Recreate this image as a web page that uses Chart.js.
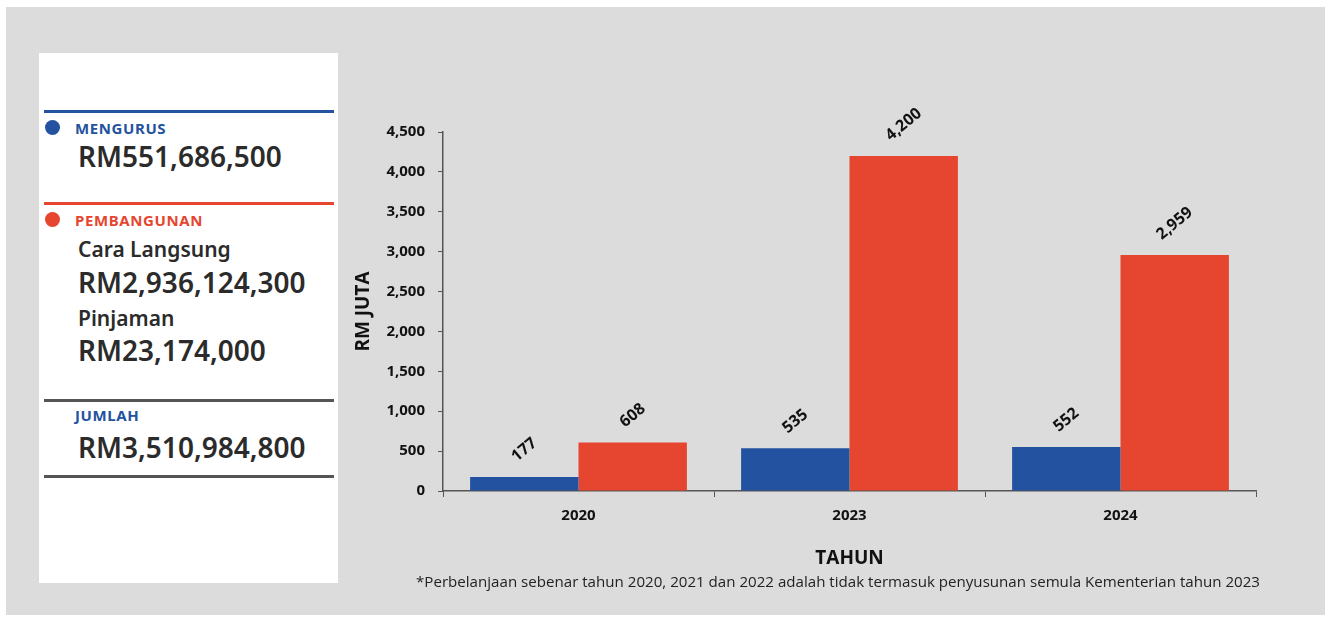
<!DOCTYPE html>
<html>
<head>
<meta charset="utf-8">
<script src="https://cdn.jsdelivr.net/npm/chart.js@4"></script>
<style>
  html, body { margin: 0; padding: 0; background: #fff; }
  body { width: 1330px; height: 617px; position: relative; overflow: hidden; }
  #panel { position: absolute; left: 6px; top: 7px; width: 1319px; height: 608px; background: #dcdcdc; }
  #card { position: absolute; left: 39px; top: 53px; width: 299px; height: 530px; background: #fff; font-family: "Noto Sans", sans-serif; color: #2b2b2b; }
  .rule { position: absolute; left: 5px; width: 290px; height: 3px; }
  .dot { position: absolute; left: 6px; width: 15px; height: 15px; border-radius: 50%; }
  .cap { position: absolute; left: 36px; font-size: 15px; font-weight: 700; letter-spacing: 0.6px; transform: translateY(-50%); }
  .big { position: absolute; left: 39px; font-size: 28px; font-weight: 600; transform: translateY(-50%); white-space: nowrap; }
  .sub { position: absolute; left: 39px; font-size: 21px; font-weight: 600; transform: translateY(-50%); }
  #chartBox { position: absolute; left: 340px; top: 90px; width: 930px; height: 490px; }
  #note { position: absolute; left: 416px; top: 572px; font-family: "Open Sans", sans-serif; font-size: 14px; color: #222; white-space: nowrap; transform-origin: 0 0; }
</style>
</head>
<body>
<div id="panel"></div>
<div id="card">
  <div class="rule" style="top:57px;background:#2352a0"></div>
  <div class="dot" style="top:67px;background:#2352a0"></div>
  <div class="cap" style="top:75px;color:#2352a0">MENGURUS</div>
  <div class="big" style="top:103px">RM551,686,500</div>

  <div class="rule" style="top:149px;background:#e6452f"></div>
  <div class="dot" style="top:159px;background:#e6452f"></div>
  <div class="cap" style="top:167px;color:#e6452f">PEMBANGUNAN</div>
  <div class="sub" style="top:196px">Cara Langsung</div>
  <div class="big" style="top:229px">RM2,936,124,300</div>
  <div class="sub" style="top:265px">Pinjaman</div>
  <div class="big" style="top:297px">RM23,174,000</div>

  <div class="rule" style="top:346px;background:#555"></div>
  <div class="cap" style="top:362px;color:#2352a0">JUMLAH</div>
  <div class="big" style="top:394px">RM3,510,984,800</div>
  <div class="rule" style="top:422px;background:#555"></div>
</div>
<div id="chartBox"><canvas id="chart" width="930" height="490"></canvas></div>
<div id="note">*Perbelanjaan sebenar tahun 2020, 2021 dan 2022 adalah tidak termasuk penyusunan semula Kementerian tahun 2023</div>

<script>
// data (RM juta)
const years = ["2020", "2023", "2024"];
const mengurus = [177, 535, 552];
const pembangunan = [608, 4200, 2959];
const yTicks = [0, 500, 1000, 1500, 2000, 2500, 3000, 3500, 4000, 4500];

const BLUE = "#2352a0";
const RED = "#e6452f";
const AXIS = "#555";

// rotated value labels above each bar
const barLabels = {
  id: "barLabels",
  afterDatasetsDraw(chart) {
    const ctx = chart.ctx;
    const ang = -40 * Math.PI / 180;
    ctx.save();
    ctx.font = "bold 16px 'Open Sans'";
    ctx.fillStyle = "#111";
    ctx.textAlign = "center";
    ctx.textBaseline = "middle";
    chart.data.datasets.forEach((ds, i) => {
      chart.getDatasetMeta(i).data.forEach((bar, j) => {
        const txt = ds.data[j].toLocaleString("en-US");
        const w = ctx.measureText(txt).width;
        const half = (w / 2) * Math.sin(-ang) + 8 * Math.cos(ang);
        ctx.save();
        ctx.translate(bar.x, bar.y - 12 - half);
        ctx.rotate(ang);
        ctx.fillText(txt, 0, 0);
        ctx.restore();
      });
    });
    ctx.restore();
  }
};

new Chart(document.getElementById("chart"), {
  type: "bar",
  data: {
    labels: years,
    datasets: [
      { label: "MENGURUS", data: mengurus, backgroundColor: BLUE },
      { label: "PEMBANGUNAN", data: pembangunan, backgroundColor: RED }
    ]
  },
  options: {
    responsive: false,
    animation: false,
    events: [],
    layout: { padding: { top: 42, right: 14, left: 0, bottom: 0 } },
    datasets: { bar: { categoryPercentage: 0.8, barPercentage: 1.0 } },
    plugins: { legend: { display: false }, tooltip: { enabled: false } },
    scales: {
      x: {
        afterFit(s) { s.height = 89; },
        grid: { drawOnChartArea: false, tickLength: 6, color: AXIS, offset: true },
        border: { color: AXIS, width: 1.5 },
        ticks: { color: "#111", padding: 10, font: { family: "Open Sans", size: 15, weight: "bold" } },
        title: { display: true, text: "TAHUN", color: "#111", padding: { top: 0, bottom: 10 },
                 font: { family: "Open Sans", size: 19, weight: "bold" } }
      },
      y: {
        min: 0, max: 4500,
        afterFit(s) { s.width = 103; },
        afterBuildTicks(s) { s.ticks = yTicks.map(v => ({ value: v })); },
        grid: { drawOnChartArea: false, tickLength: 5, color: AXIS },
        border: { color: AXIS, width: 1.5 },
        ticks: { color: "#111", padding: 13, font: { family: "Open Sans", size: 15, weight: "bold" },
                 callback: v => v.toLocaleString("en-US") },
        title: { display: true, text: "RM JUTA", color: "#111", padding: { top: 12, bottom: 0 },
                 font: { family: "Open Sans", size: 19, weight: "bold" } }
      }
    }
  },
  plugins: [barLabels]
});

// footnote uses a narrow face in the original: squeeze to the same width
const note = document.getElementById("note");
note.style.transform = "scaleX(" + (844 / note.getBoundingClientRect().width) + ")";
</script>
</body>
</html>
